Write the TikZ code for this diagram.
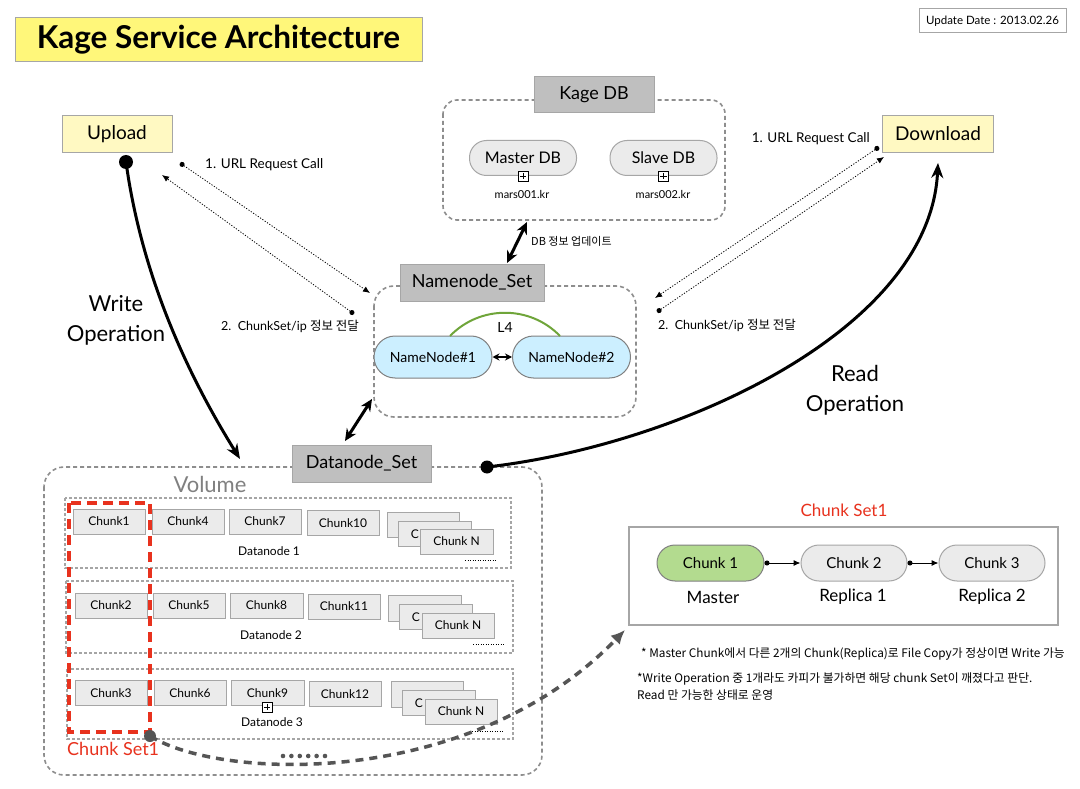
\documentclass[tikz,border=0pt]{standalone}
\usepackage{fontspec}
\setmainfont{Lato}
\newfontfamily\kr{Noto Sans CJK KR}
\usetikzlibrary{arrows.meta}
\definecolor{titley}{HTML}{FFF77A}
\definecolor{lighty}{HTML}{FFF9C2}
\definecolor{headg}{HTML}{BFBFBF}
\definecolor{boxg}{HTML}{EBEBEB}
\definecolor{edgeg}{HTML}{A6A6A6}
\definecolor{dashg}{HTML}{8E8E8E}
\definecolor{nncyan}{HTML}{CCEFFF}
\definecolor{chgreen}{HTML}{B3DB8F}
\definecolor{setred}{HTML}{E8321E}
\definecolor{curveg}{HTML}{555555}
\definecolor{arcgreen}{HTML}{6FA53A}
\newcommand{\fsz}[1]{\fontsize{#1}{#1}\selectfont}
\tikzset{
  yellowbox/.style={draw=edgeg, line width=1pt, fill=lighty, inner sep=0pt},
  headbox/.style={draw=gray!70, line width=1pt, fill=headg, inner sep=0pt, minimum height=36pt, font=\fsz{18}},
  groupbox/.style={draw=dashg, line width=1.6pt, dash pattern=on 4pt off 3pt, rounded corners=14pt},
  rowbox/.style={draw=dashg!80, line width=1.1pt, dash pattern=on 3pt off 2pt},
  pill/.style={draw=#1, line width=1pt, rounded corners=17pt, inner sep=0pt, minimum height=35pt},
  chunkbox/.style={draw=edgeg, line width=1pt, fill=boxg, inner sep=0pt, minimum height=25pt, minimum width=72pt, font=\fsz{12}},
  stackbox/.style={draw=edgeg, line width=1pt, fill=boxg},
  thickarrow/.style={line width=3pt, {Stealth[length=12pt,width=11pt]}-{Stealth[length=12pt,width=11pt]}},
  bigcurve/.style={line width=3pt, -{Stealth[length=15pt,width=12pt]}},
  dotarrow/.style={line width=0.8pt, dash pattern=on 1.2pt off 1.6pt, {Circle[length=5pt,width=5pt]}-{Latex[length=7pt,width=6pt]}},
  lbl/.style={inner sep=0pt},
  plusicon/.pic={\draw[fill=white,line width=0.8pt] (-5,-5) rectangle (5,5); \draw[line width=0.8pt] (-3.2,0)--(3.2,0) (0,-3.2)--(0,3.2);}
}
\begin{document}
\begin{tikzpicture}[x=1pt,y=-1pt]
\useasboundingbox[fill=white] (0,0) rectangle (1080,789);

% title and date
\node[draw=edgeg, line width=1pt, fill=titley, minimum width=407pt, minimum height=44pt, inner sep=0pt, font=\bfseries\fsz{31.5}] (title) at (218.5,40) {Kage Service Architecture};
\node[draw=edgeg, line width=1pt, minimum width=147pt, minimum height=24pt, inner sep=0pt, font=\fsz{11.5}] (date) at (992.5,21) {Update Date : 2013.02.26};

% upload / download
\node[yellowbox, minimum width=110pt, minimum height=37pt, font=\fsz{19}] (upload) at (117,134.5) {Upload};
\node[yellowbox, minimum width=111pt, minimum height=37pt, font=\fsz{19}] (download) at (938,134) {Download};

% Kage DB
\draw[groupbox] (443,100) rectangle (725,220);
\node[headbox, minimum width=120pt] (kagehead) at (594,95) {Kage DB};
\node[pill=edgeg, fill=boxg, minimum width=107pt, font=\fsz{16}] (masterdb) at (523,158) {Master DB};
\node[pill=edgeg, fill=boxg, minimum width=107pt, font=\fsz{16}] (slavedb) at (663.5,158) {Slave DB};
\pic at (523,176) {plusicon};
\pic at (663.5,176) {plusicon};
\node[lbl, font=\fsz{11}] (mars1) at (522,194) {mars001.kr};
\node[lbl, font=\fsz{11}] (mars2) at (663,194) {mars002.kr};

% Namenode set
\draw[groupbox, rounded corners=20pt] (374,286) rectangle (636,417);
\node[headbox, minimum width=144pt, minimum height=37pt] (nnhead) at (472,282.5) {Namenode\_Set};
\node[pill=gray, fill=nncyan, minimum width=118pt, minimum height=42pt, rounded corners=21pt, font=\fsz{14}] (nn1) at (433,357) {NameNode\#1};
\node[pill=gray, fill=nncyan, minimum width=118pt, minimum height=42pt, rounded corners=21pt, font=\fsz{14}] (nn2) at (571.5,357) {NameNode\#2};
\draw[line width=2pt, {Stealth[length=7pt,width=7pt]}-{Stealth[length=7pt,width=7pt]}] (nn1.east) -- (nn2.west);
\coordinate (arcA) at (450,336);
\coordinate (arcB) at (560,336);
\draw[arcgreen, line width=2pt] (arcA) .. controls (480,305) and (530,305) .. (arcB);
\node[lbl, font=\fsz{14}] (l4) at (505,327) {L4};

% DB <-> namenode
\coordinate (dbA) at (527,222);
\coordinate (dbB) at (507,263);
\draw[thickarrow] (dbA) -- (dbB);
\node[lbl, anchor=west, font=\kr\fsz{11}] (dbupd) at (531,241) {DB 정보 업데이트};

% Datanode set / volume
\draw[groupbox, rounded corners=20pt] (44,467) rectangle (542,775);
\node[headbox, minimum width=139pt, minimum height=37pt] (dnhead) at (361.5,463.5) {Datanode\_Set};
\node[lbl, text=gray, font=\fsz{22}] (volume) at (210,484) {Volume};
\coordinate (nnC) at (372,399);
\coordinate (dnC) at (345,441);
\draw[thickarrow] (nnC) -- (dnC);

% rows
\draw[rowbox] (65,498) rectangle (511,568);
\draw[rowbox] (66,581) rectangle (513,653);
\draw[rowbox] (67,669) rectangle (513,739);

% row 1
\node[chunkbox] (c1) at (109,521.5) {Chunk1};
\node[chunkbox] (c4) at (188,521.5) {Chunk4};
\node[chunkbox] (c7) at (265,521.5) {Chunk7};
\node[chunkbox] (c10) at (343,523) {Chunk10};
\draw[stackbox] (387,512) rectangle (459,537);
\node[chunkbox, minimum width=73pt] (s1b) at (434.5,533.5) {};
\node[lbl, font=\fsz{12}] (s1bt) at (415,534) {C};
\node[chunkbox, minimum width=73pt] (s1c) at (456.5,541.5) {Chunk N};
\node[lbl, font=\fsz{12}] (dn1) at (269,551) {Datanode 1};
\draw[line width=0.8pt, dash pattern=on 1pt off 1.5pt] (465,560) -- (497,560);

% row 2
\node[chunkbox] (c2) at (111,605.5) {Chunk2};
\node[chunkbox] (c5) at (189,605.5) {Chunk5};
\node[chunkbox, minimum width=73pt] (c8) at (266.5,605.5) {Chunk8};
\node[chunkbox] (c11) at (344,606.5) {Chunk11};
\draw[stackbox] (388,595) rectangle (461,621);
\node[chunkbox, minimum width=73pt] (s2b) at (435.5,617) {};
\node[lbl, font=\fsz{12}] (s2bt) at (416,617.5) {C};
\node[chunkbox, minimum width=72pt] (s2c) at (458,625.5) {Chunk N};
\node[lbl, font=\fsz{12}] (dn2) at (271,635) {Datanode 2};
\draw[line width=0.8pt, dash pattern=on 1pt off 1.5pt] (473,644) -- (505,644);

% row 3
\node[chunkbox] (c3) at (111,693) {Chunk3};
\node[chunkbox] (c6) at (190,693) {Chunk6};
\node[chunkbox, minimum width=73pt] (c9) at (267.5,693) {Chunk9};
\node[chunkbox] (c12) at (345,694) {Chunk12};
\pic at (267,707) {plusicon};
\draw[stackbox] (391,681) rectangle (463,707);
\node[chunkbox, minimum width=73pt] (s3b) at (438.5,703) {};
\node[lbl, font=\fsz{12}] (s3bt) at (419,703.5) {C};
\node[chunkbox, minimum width=72pt] (s3c) at (461,711.5) {Chunk N};
\node[lbl, font=\fsz{12}] (dn3) at (272,722) {Datanode 3};
\draw[line width=0.8pt, dash pattern=on 1pt off 1.5pt] (472,731) -- (504,731);

% chunk set 1 (left)
\draw[setred, line width=4pt, dash pattern=on 10pt off 6pt] (69,503) rectangle (150,732);
\node[lbl, anchor=west, text=setred, font=\fsz{18}] (cs1) at (67,749) {Chunk Set1};
\foreach \i in {0,...,5} \fill[curveg] (283+\i*8.4,756) circle (2.3pt);

% chunk set 1 (right)
\draw[edgeg, line width=1.5pt] (629,527) rectangle (1058,625);
\node[lbl, text=setred, font=\fsz{17}] (cs1r) at (844,510) {Chunk Set1};
\node[pill=gray, fill=chgreen, minimum width=107pt, minimum height=36pt, rounded corners=18pt, font=\fsz{15}] (k1) at (710.5,563) {Chunk 1};
\node[pill=edgeg, fill=boxg, minimum width=106pt, minimum height=36pt, rounded corners=18pt, font=\fsz{15}] (k2) at (854,563) {Chunk 2};
\node[pill=edgeg, fill=boxg, minimum width=106pt, minimum height=36pt, rounded corners=18pt, font=\fsz{15}] (k3) at (992,563) {Chunk 3};
\draw[line width=1pt, {Circle[length=5pt,width=5pt]}-{Latex[length=7pt,width=6pt]}] (k1.east) -- (k2.west);
\draw[line width=1pt, {Circle[length=5pt,width=5pt]}-{Latex[length=7pt,width=6pt]}] (k2.east) -- (k3.west);
\node[lbl, font=\fsz{17}] (mst) at (713,597) {Master};
\node[lbl, font=\fsz{17}] (rp1) at (853,597) {Replica 1};
\node[lbl, font=\fsz{17}] (rp2) at (992,597) {Replica 2};
\node[lbl, anchor=west, font=\kr\fsz{11.8}] (note1) at (641,654) {* Master Chunk에서 다른 2개의 Chunk(Replica)로 File Copy가 정상이면 Write 가능};
\node[lbl, anchor=west, font=\kr\fsz{11.8}] (note2) at (637,679) {*Write Operation 중 1개라도 카피가 불가하면 해당 chunk Set이 깨졌다고 판단.};
\node[lbl, anchor=west, font=\kr\fsz{11.8}] (note3) at (637,695) {Read 만 가능한 상태로 운영};

% gray dashed curve from chunk set to right box
\coordinate (gA) at (150,736);
\coordinate (gB) at (625,630);
\fill[curveg] (gA) circle (6pt);
\draw[curveg, line width=3.5pt, dash pattern=on 8pt off 6pt, -{Latex[length=14pt,width=13pt]}] (gA) .. controls (220,780) and (470,790) .. (gB);

% write / read operation
\coordinate (wA) at (126,162);
\coordinate (wB) at (240,459);
\fill (wA) circle (7pt);
\draw[bigcurve] (wA) .. controls (143,285) and (194,385) .. (wB);
\node[lbl, align=center, font=\fontsize{22}{30}\selectfont] (writeop) at (116,320) {Write\\Operation};
\coordinate (rA) at (487,467);
\coordinate (rB) at (938,163);
\fill (rA) circle (6.5pt);
\draw[bigcurve] (rA) .. controls (680,445) and (930,330) .. (rB);
\node[lbl, align=center, font=\fontsize{22}{30}\selectfont] (readop) at (855,390) {Read\\Operation};

% dotted request arrows
\coordinate (uL1) at (180,163);
\coordinate (nL1) at (370,293);
\coordinate (nL2) at (354,314);
\coordinate (uL2) at (162,175);
\draw[dotarrow] (uL1) -- (nL1);
\draw[dotarrow] (nL2) -- (uL2);
\node[lbl, anchor=west, font=\fsz{13.5}] (url1) at (205,165) {1. URL Request Call};
\node[lbl, anchor=west, font=\fsz{12.5}] (cs2l) at (221,326) {2.\ \ ChunkSet/ip {\kr 정보 전달}};
\coordinate (dR1) at (879,147);
\coordinate (nR1) at (655,298);
\coordinate (nR2) at (657,312);
\coordinate (dR2) at (884,157);
\draw[dotarrow] (dR1) -- (nR1);
\draw[dotarrow] (nR2) -- (dR2);
\node[lbl, anchor=east, font=\fsz{13.5}] (url2) at (870,139) {1. URL Request Call};
\node[lbl, anchor=west, font=\fsz{12.5}] (cs2r) at (658,325) {2.\ \ ChunkSet/ip {\kr 정보 전달}};
\end{tikzpicture}
\end{document}
